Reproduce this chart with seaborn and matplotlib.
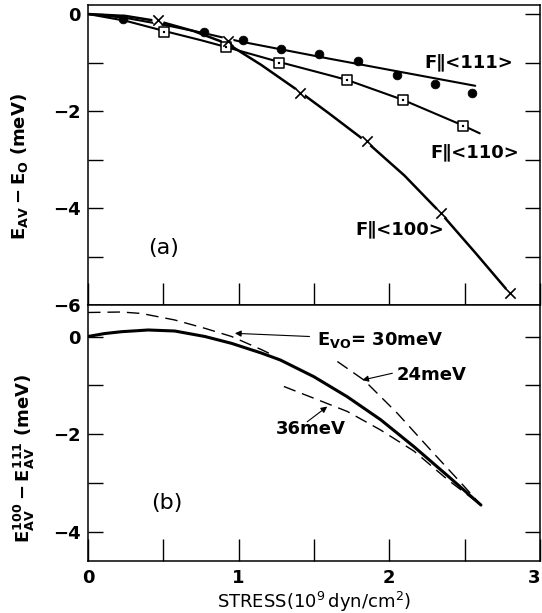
import matplotlib
matplotlib.use("Agg")
import matplotlib.pyplot as plt
import seaborn as sns

sns.set_style("ticks")
plt.rcParams['font.family'] = ['DejaVu Sans']
plt.rcParams['mathtext.fontset'] = 'custom'
plt.rcParams['mathtext.rm'] = 'DejaVu Sans:bold'
plt.rcParams['mathtext.it'] = 'DejaVu Sans:bold'
plt.rcParams['mathtext.bf'] = 'DejaVu Sans:bold'
for k in ('text.color', 'axes.labelcolor', 'xtick.color', 'ytick.color', 'axes.edgecolor'):
    plt.rcParams[k] = 'black'

# ---------------- data: panel (a) ----------------
x111 = [0.23, 0.772, 1.027, 1.282, 1.535, 1.79, 2.05, 2.30, 2.55]
y111 = [-0.10, -0.365, -0.536, -0.728, -0.83, -0.97, -1.25, -1.44, -1.62]
x110 = [0.506, 0.916, 1.27, 1.72, 2.09, 2.49]
y110 = [-0.365, -0.69, -1.00, -1.37, -1.77, -2.31]
x100 = [0.466, 0.927, 1.404, 1.85, 2.34, 2.80]
y100 = [-0.12, -0.55, -1.635, -2.62, -4.11, -5.76]

fit111_x = [0.0, 0.25, 0.5, 0.75, 1.0, 1.3, 1.6, 2.05, 2.57]
fit111_y = [0.0, -0.08, -0.22, -0.38, -0.56, -0.74, -0.92, -1.18, -1.48]
fit110_x = [0.0, 0.25, 0.506, 0.75, 0.916, 1.27, 1.6, 1.72, 2.09, 2.49, 2.6]
fit110_y = [0.0, -0.14, -0.35, -0.54, -0.68, -0.99, -1.26, -1.36, -1.77, -2.30, -2.46]
fit100_x = [0.0, 0.25, 0.47, 0.7, 0.93, 1.15, 1.404, 1.6, 1.85, 2.1, 2.34, 2.57, 2.80]
fit100_y = [0.0, -0.04, -0.15, -0.35, -0.62, -1.05, -1.60, -2.05, -2.64, -3.33, -4.10, -4.92, -5.76]

# ---------------- data: panel (b) ----------------
solid_x = [0.0, 0.11, 0.222, 0.40, 0.576, 0.776, 0.953, 1.153, 1.277, 1.499, 1.721,
           1.943, 2.164, 2.386, 2.608]
solid_y = [0.0, 0.06, 0.098, 0.133, 0.112, 0.0, -0.14, -0.34, -0.48, -0.82, -1.23,
           -1.70, -2.25, -2.84, -3.44]
dashL_x = [0.0, 0.222, 0.355, 0.576, 0.776, 0.953, 1.153, 1.22]
dashL_y = [0.49, 0.50, 0.47, 0.337, 0.167, 0.0, -0.27, -0.37]
d24_x = [1.655, 1.832, 2.054, 2.275, 2.497, 2.608]
d24_y = [-0.51, -0.89, -1.57, -2.32, -3.06, -3.44]
d36_x = [1.30, 1.499, 1.721, 1.943, 2.164, 2.386, 2.608]
d36_y = [-1.02, -1.26, -1.53, -1.91, -2.34, -2.92, -3.44]

xticks = [0, 0.5, 1, 1.5, 2, 2.5, 3]
xticklabels = ['0', '', '1', '', '2', '', '3']
yticks_a = [0, -1, -2, -3, -4, -5, -6]
yticklabels_a = ['0', '', '\u22122', '', '\u22124', '', '\u22126']
yticks_b = [0, -1, -2, -3, -4]
yticklabels_b = ['0', '', '\u22122', '', '\u22124']

W, H = 542, 613
fig = plt.figure(figsize=(W / 100, H / 100), dpi=100)
ax1 = fig.add_axes([88 / W, 1 - 305 / H, 452 / W, 300 / H])
ax2 = fig.add_axes([88 / W, 1 - 561 / H, 452 / W, 256 / H])

FS = 13
for ax in (ax1, ax2):
    for s in ax.spines.values():
        s.set_linewidth(1.1)
        s.set_color('black')
    ax.set_xlim(0, 3)
    ax.tick_params(axis='y', which='both', direction='in', length=11, width=1.0,
                   left=True, right=True, labelsize=FS, pad=5, colors='black')
    ax.set_xticks(xticks)

# ---- panel (a)
ax1.set_ylim(-6.0, 0.186)
ax1.tick_params(axis='x', direction='in', length=16, width=1.0, bottom=True, top=False,
                labelbottom=False, colors='black')
ax1.set_yticks(yticks_a)
ax1.set_yticklabels(yticklabels_a, fontweight='bold')

sns.lineplot(x=fit111_x, y=fit111_y, ax=ax1, color='black', lw=1.5, sort=False, estimator=None)
sns.lineplot(x=fit110_x, y=fit110_y, ax=ax1, color='black', lw=1.5, sort=False, estimator=None)
sns.lineplot(x=fit100_x, y=fit100_y, ax=ax1, color='black', lw=1.8, sort=False, estimator=None)
sns.scatterplot(x=x111, y=y111, ax=ax1, color='black', marker='o', s=40, edgecolor='black', zorder=5)
sns.scatterplot(x=x110, y=y110, ax=ax1, color='white', marker='s', s=60, edgecolor='black',
                linewidth=1.1, zorder=5)
sns.scatterplot(x=x110, y=y110, ax=ax1, color='black', marker='s', s=2, edgecolor='black', zorder=6)
sns.scatterplot(x=x100, y=y100, ax=ax1, color='white', marker='o', s=70, edgecolor='none', zorder=4)
sns.scatterplot(x=x100, y=y100, ax=ax1, color='black', marker='x', s=55, linewidth=1.2, zorder=5)

tkw = dict(fontsize=FS, fontweight='bold', ha='center', va='center', color='black')
ax1.text(2.53, -0.99, 'F\u2225<111>', **tkw)
ax1.text(2.57, -2.85, 'F\u2225<110>', **tkw)
ax1.text(2.07, -4.45, 'F\u2225<100>', **tkw)
ax1.text(0.50, -4.83, '(a)', fontsize=16, ha='center', va='center', color='black')
ax1.set_ylabel(r'$\mathregular{E_{AV}-E_{O}}$ (meV)', fontsize=FS, fontweight='bold')
ax1.yaxis.set_label_coords(-0.128, 0.46)

# ---- panel (b)
ax2.set_ylim(-4.582, 0.643)
ax2.tick_params(axis='x', direction='in', length=16, width=1.0, bottom=True, top=False,
                labelbottom=True, labelsize=FS, pad=6, colors='black')
ax2.set_xticklabels(xticklabels, fontweight='bold')
ax2.get_xticklabels()[-1].set_horizontalalignment('right')
ax2.set_yticks(yticks_b)
ax2.set_yticklabels(yticklabels_b, fontweight='bold')

sns.lineplot(x=solid_x, y=solid_y, ax=ax2, color='black', lw=2.2, sort=False, estimator=None)
for xs, ys in ((dashL_x, dashL_y), (d24_x, d24_y), (d36_x, d36_y)):
    sns.lineplot(x=xs, y=ys, ax=ax2, color='black', lw=1.0, sort=False, estimator=None)
    ax2.lines[-1].set_dashes((9, 5))

arrow = dict(arrowstyle='-|>', color='black', lw=0.8, mutation_scale=9, shrinkA=0, shrinkB=0)
ax2.annotate('', xy=(0.975, 0.065), xytext=(1.47, 0.0), arrowprops=arrow)
ax2.text(1.52, -0.07, r'$\mathregular{E_{VO}}$= 30meV', fontsize=FS, fontweight='bold',
         ha='left', va='center', color='black')
ax2.annotate('', xy=(1.82, -0.89), xytext=(2.02, -0.75), arrowprops=arrow)
ax2.text(2.05, -0.79, '24meV', fontsize=FS, fontweight='bold', ha='left', va='center', color='black')
ax2.annotate('', xy=(1.588, -1.43), xytext=(1.455, -1.74), arrowprops=arrow)
ax2.text(1.71, -1.88, '36meV', fontsize=FS, fontweight='bold', ha='right', va='center', color='black')
ax2.text(0.52, -3.40, '(b)', fontsize=16, ha='center', va='center', color='black')

ax2.set_ylabel(r'$\mathregular{E_{AV}^{100}-E_{AV}^{111}}$ (meV)', fontsize=FS, fontweight='bold')
ax2.yaxis.set_label_coords(-0.113, 0.40)
ax2.set_xlabel(r'STRESS$\mathregular{(10^{9}\,dyn/cm^{2})}$', fontsize=13, labelpad=2)

fig.savefig('out.png', dpi=100)
